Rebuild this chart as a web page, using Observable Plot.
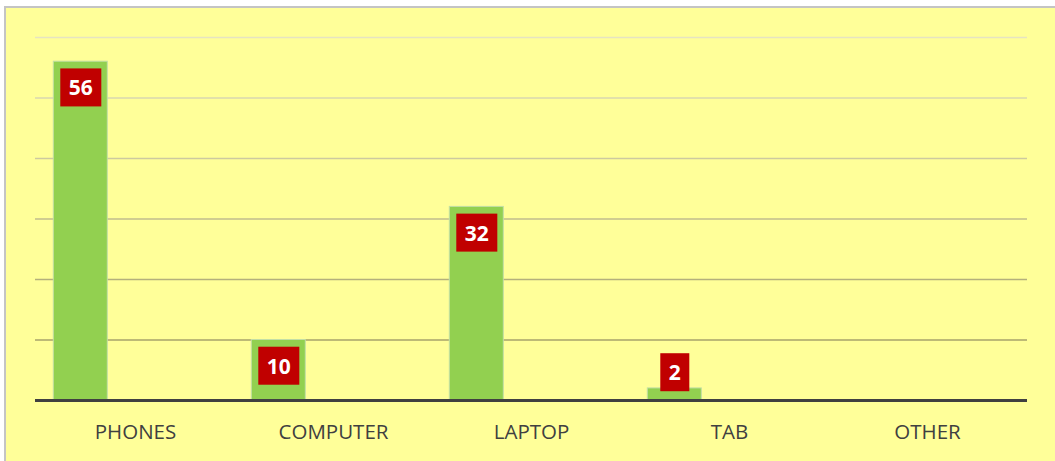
<!DOCTYPE html>
<html>
<head>
<meta charset="utf-8">
<script src="https://cdn.jsdelivr.net/npm/d3@7"></script>
<script src="https://cdn.jsdelivr.net/npm/@observablehq/plot@0.6"></script>
<style>
  html, body { margin: 0; padding: 0; background: #ffffff; width: 1055px; height: 461px; overflow: hidden; }
  #frame { position: absolute; left: 4px; top: 6px; width: 1100px; height: 520px; border: 2px solid #c4c4c4; background: #FFFF99; box-sizing: border-box; }
  #chart { position: absolute; left: 0; top: 0; }
  #chart svg { background: transparent; }
</style>
</head>
<body>
<div id="frame"></div>
<div id="chart"></div>
<script>
const categories = ["PHONES", "COMPUTER", "LAPTOP", "TAB", "OTHER"];
const values = [56, 10, 32, 2, 0];
const gridTicks = [10, 20, 30, 40, 50, 60];

const data = categories.map((c, i) => ({category: c, value: values[i]}));
const shown = data.filter(d => d.value > 0);
const labelFont = "'Open Sans', 'Liberation Sans', sans-serif";

const plot = Plot.plot({
  width: 1055,
  height: 461,
  marginLeft: 35,
  marginRight: 28,
  marginTop: 37,
  marginBottom: 61,
  style: {background: "transparent", fontFamily: labelFont},
  x: {domain: categories, padding: 0, label: null},
  y: {domain: [0, 60], axis: null},
  color: {type: "linear", domain: [10, 60], range: ["#a7a36b", "#e6e4c2"]},
  marks: [
    Plot.ruleY(gridTicks, {stroke: d => d, strokeWidth: 1.5}),
    Plot.barY(shown, {x: "category", y: "value", fill: "#92D050", stroke: "#c3dfa6", strokeWidth: 1, insetLeft: 17.3, insetRight: 126.7}),
    Plot.ruleY([0], {stroke: "#404040", strokeWidth: 3}),
    Plot.axisX({tickSize: 0, tickPadding: 24, fontSize: 20.5, fill: "#404040", fontFamily: labelFont, label: null}),
    Plot.text(shown.filter(d => d.value >= 10), {x: "category", y: "value", text: d => String(d.value), dx: -54.7, dy: 27, fill: "white", fontWeight: "bold", fontSize: 21, fontFamily: labelFont, lineAnchor: "middle", className: "vlabel"}),
    Plot.text(shown.filter(d => d.value < 10), {x: "category", y: 0, text: d => String(d.value), dx: -54.7, dy: -27, fill: "white", fontWeight: "bold", fontSize: 21, fontFamily: labelFont, lineAnchor: "middle", className: "vlabel"})
  ]
});
document.getElementById("chart").appendChild(plot);

// draw red label boxes behind the value texts
plot.querySelectorAll("g.vlabel text").forEach(t => {
  const b = t.getBBox();
  const tr = t.getAttribute("transform");
  const r = document.createElementNS("http://www.w3.org/2000/svg", "rect");
  const w = b.width + 17, h = 38;
  r.setAttribute("x", b.x + b.width / 2 - w / 2);
  r.setAttribute("y", b.y + b.height / 2 - h / 2);
  r.setAttribute("width", w);
  r.setAttribute("height", h);
  r.setAttribute("fill", "#C00000");
  if (tr) r.setAttribute("transform", tr);
  t.parentNode.insertBefore(r, t);
});
</script>
</body>
</html>
